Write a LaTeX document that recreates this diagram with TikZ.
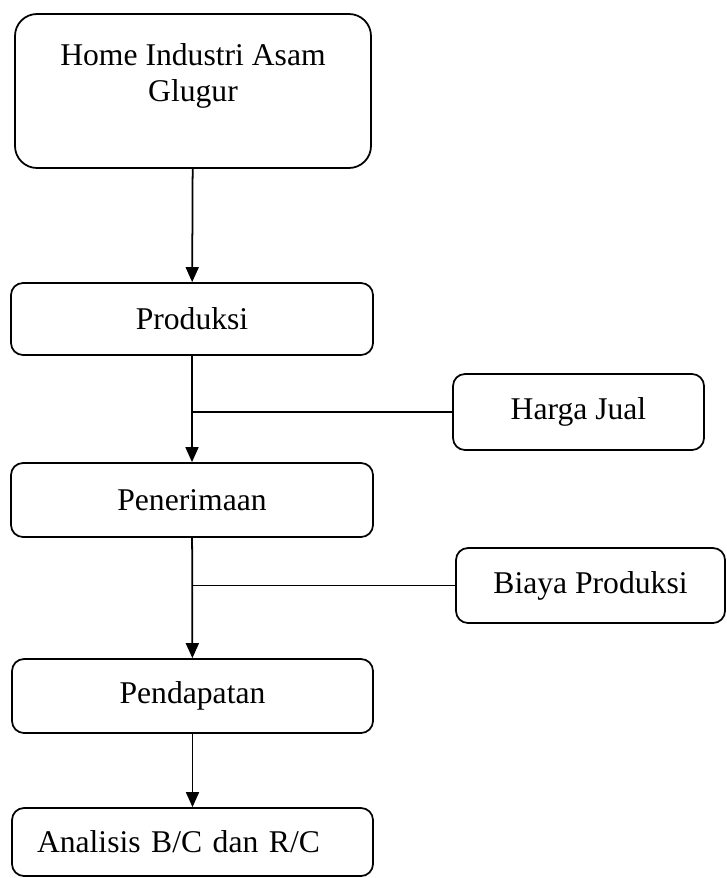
\documentclass[tikz,border=0pt]{standalone}
\usepackage{fontspec}
\setmainfont{Liberation Serif}
\usetikzlibrary{arrows.meta}

\begin{document}
\begin{tikzpicture}[
    kotak/.style={draw, line width=1pt, rounded corners=0.24cm, align=center,
        font=\fontsize{18}{21}\selectfont, minimum width=7.24cm, minimum height=1.46cm},
    panah/.style={-{Triangle[length=0.3cm, width=0.26cm]}, line width=1pt},
    garis/.style={line width=1pt}
    ]
        \useasboundingbox (0, 0) rectangle (14.52, -17.56);

        % Alur utama
        \node[kotak, rounded corners=0.44cm, minimum width=7.12cm, minimum height=3.08cm] (H) at (3.86, -1.82) {Home Industri Asam\\Glugur\\\mbox{}};
        \node[kotak, minimum height=1.44cm] (P) at (3.84, -6.38) {Produksi};
        \node[kotak, minimum height=1.48cm] (T) at (3.84, -10.0) {Penerimaan};
        \node[kotak, minimum width=7.22cm, minimum height=1.48cm] (D) at (3.85, -13.92) {Pendapatan};
        \node[kotak, minimum width=7.22cm, minimum height=1.36cm, align=left, text width=6.22cm, inner xsep=0.5cm] (AN) at (3.85, -16.84) {Analisis B/C dan R/C};

        % Faktor samping
        \node[kotak, minimum width=5.02cm, minimum height=1.52cm] (HJ) at (11.57, -8.24) {Harga Jual};
        \node[kotak, minimum width=5.38cm, minimum height=1.5cm] (BP) at (11.81, -11.71) {Biaya Produksi};

        % Panah
        \draw[panah] (H) -- (P);
        \draw[panah] (P) -- (T);
        \draw[panah] (T) -- (D);
        \draw[panah] (D) -- (AN);

        % Cabang
        \draw[garis] (HJ.west) -- (HJ.west -| P.south);
        \draw[garis] (BP.west) -- (BP.west -| T.south);

    \end{tikzpicture}
\end{document}
